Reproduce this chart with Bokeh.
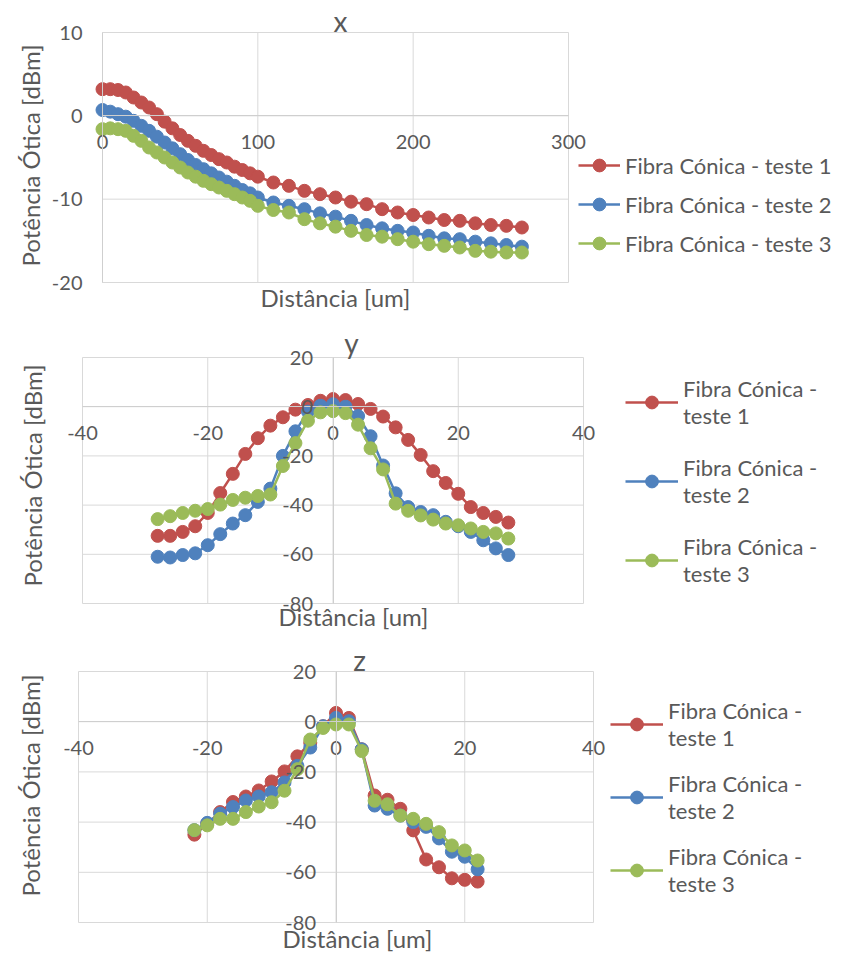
import math
from bokeh.plotting import figure
from bokeh.models import FixedTicker, Legend, LegendItem, Range1d, Label
from bokeh.layouts import column
from bokeh.embed import file_html
from bokeh.resources import INLINE

# ---------------- data ----------------
series_names = ["Fibra Cónica - teste 1", "Fibra Cónica - teste 2", "Fibra Cónica - teste 3"]
series_names_wrapped = ["Fibra Cónica -\nteste 1", "Fibra Cónica -\nteste 2", "Fibra Cónica -\nteste 3"]

# panel x
x_dist = [0, 5, 10, 15, 20, 25, 30, 35, 40, 45, 50, 55, 60, 65, 70, 75, 80, 85, 90, 95, 100,
          110, 120, 130, 140, 150, 160, 170, 180, 190, 200, 210, 220, 230, 240, 250, 260, 270]
x_teste1 = [3.2, 3.2, 3.1, 2.8, 2.2, 1.6, 1.0, 0.2, -0.7, -1.5, -2.3, -3.0, -3.6, -4.2, -4.7, -5.2, -5.6, -6.1, -6.5, -6.9, -7.3,
            -8.0, -8.4, -9.0, -9.4, -9.8, -10.3, -10.6, -11.2, -11.6, -11.9, -12.2, -12.5, -12.6, -12.9, -13.1, -13.2, -13.4]
x_teste2 = [0.7, 0.5, 0.2, -0.1, -0.6, -1.2, -1.8, -2.5, -3.2, -3.9, -4.6, -5.3, -5.9, -6.4, -6.9, -7.4, -7.9, -8.4, -8.9, -9.3, -9.8,
            -10.4, -10.8, -11.2, -11.7, -12.1, -12.6, -13.1, -13.5, -13.8, -14.0, -14.4, -14.7, -14.8, -15.1, -15.3, -15.5, -15.7]
x_teste3 = [-1.6, -1.5, -1.6, -1.8, -2.4, -3.0, -3.8, -4.4, -5.0, -5.6, -6.2, -6.8, -7.3, -7.8, -8.2, -8.6, -9.0, -9.4, -9.8, -10.2, -10.8,
            -11.3, -11.6, -12.4, -12.9, -13.3, -13.8, -14.3, -14.5, -14.8, -15.1, -15.4, -15.6, -15.8, -16.2, -16.3, -16.4, -16.4]

# panel y
y_dist = [-28, -26, -24, -22, -20, -18, -16, -14, -12, -10, -8, -6, -4, -2, 0,
          2, 4, 6, 8, 10, 12, 14, 16, 18, 20, 22, 24, 26, 28]
y_teste1 = [-52.5, -52.5, -50.9, -48.6, -43.2, -35.1, -27.3, -19.2, -12.8, -7.7, -4.3, -1.2, 0.7, 2.4, 3.1,
            2.7, 1.1, -0.9, -4.0, -8.4, -13.5, -19.6, -26.2, -31.0, -35.4, -40.8, -43.2, -44.8, -47.1]
y_teste2 = [-61.0, -61.3, -60.3, -59.6, -56.3, -51.8, -47.5, -44.1, -38.7, -33.3, -20.0, -10.0, -2.0, 0.4, 1.0,
            0.0, -3.8, -12.0, -23.9, -35.2, -40.8, -42.8, -44.1, -46.8, -48.6, -50.9, -54.3, -57.6, -60.3]
y_teste3 = [-45.7, -44.5, -43.2, -42.3, -41.6, -39.8, -37.9, -37.0, -36.3, -35.7, -24.1, -14.8, -5.7, -2.3, -1.8,
            -2.6, -7.3, -16.9, -25.5, -39.4, -42.3, -44.2, -45.9, -47.5, -48.2, -49.5, -50.9, -51.5, -53.6]

# panel z
z_dist = [-22, -20, -18, -16, -14, -12, -10, -8, -6, -4, -2, 0, 2, 4, 6, 8, 10, 12, 14, 16, 18, 20, 22]
z_teste1 = [-45.0, -40.6, -36.0, -32.0, -29.8, -27.4, -23.8, -19.8, -13.8, -8.4, -1.8, 3.5,
            1.5, -11.0, -29.4, -31.1, -34.7, -43.3, -54.9, -58.0, -62.4, -63.0, -63.7]
z_teste2 = [-43.2, -40.3, -36.6, -34.0, -31.4, -29.8, -28.1, -24.2, -17.6, -10.3, -1.8, 1.5,
            0.2, -11.0, -33.4, -34.7, -37.4, -40.0, -41.9, -46.5, -51.8, -53.8, -58.8]
z_teste3 = [-43.2, -41.3, -38.7, -38.7, -36.0, -33.8, -32.1, -27.5, -18.9, -7.1, -2.5, -1.1,
            -1.1, -11.7, -31.5, -32.9, -37.4, -38.7, -40.7, -44.0, -49.3, -51.3, -55.3]

x_ticks_x = [0, 100, 200, 300]
y_ticks_x = [-20, -10, 0, 10]
x_ticks_yz = [-40, -20, 0, 20, 40]
y_ticks_yz = [-80, -60, -40, -20, 0, 20]

# ---------------- style ----------------
FONT = "Lato"
GRAY = "#595959"
GRID = "#d9d9d9"
AXIS = "#cfcfcf"
COLORS = ["#C0504D", "#4F81BD", "#9BBB59"]
TICK_FS = "20px"
LABEL_FS = "24px"
LEGEND_FS = "22px"
TITLE_FS = "28px"
W = 845


def make_panel(title, xs, ys_list, names, xticks, yticks, height,
               grid_px, title_px, ytitle_px, xtitle_px, legend_loc, legend_spacing, glyph_w):
    # grid_px = (left, right, top, bottom) pixel box of the plotting area within this figure
    gl, gr, gt, gb = grid_px
    x0, x1 = xticks[0], xticks[-1]
    y0, y1 = yticks[0], yticks[-1]

    def px2x(px):
        return x0 + (px - gl) * (x1 - x0) / (gr - gl)

    def py2y(py):
        return y1 - (py - gt) * (y1 - y0) / (gb - gt)

    p = figure(width=W, height=height, output_backend="svg", toolbar_location=None,
               title=None, x_range=Range1d(px2x(0), px2x(W)), y_range=Range1d(py2y(height), py2y(0)),
               min_border=0, background_fill_color="white", border_fill_color="white")
    p.outline_line_color = None
    p.xgrid.visible = False
    p.ygrid.visible = False

    # grid lines limited to the plotting area
    p.segment(x0=xticks, y0=[y0] * len(xticks), x1=xticks, y1=[y1] * len(xticks),
              line_color=GRID, line_width=1)
    p.segment(x0=[x0] * len(yticks), y0=yticks, x1=[x1] * len(yticks), y1=yticks,
              line_color=GRID, line_width=1)

    # axes crossing at 0
    for ax, ticks in ((p.xaxis[0], xticks), (p.yaxis[0], yticks)):
        ax.fixed_location = 0
        ax.ticker = FixedTicker(ticks=ticks)
        ax.major_label_overrides = {t: str(t) for t in ticks}
        ax.axis_line_color = AXIS
        ax.major_tick_line_color = None
        ax.minor_tick_line_color = None
        ax.major_tick_out = 0
        ax.major_tick_in = 0
        ax.minor_tick_out = 0
        ax.major_label_text_font = FONT
        ax.major_label_text_font_size = TICK_FS
        ax.major_label_text_color = GRAY
    p.xaxis[0].bounds = (x0, x1)
    p.yaxis[0].bounds = (y0, y1)
    p.xaxis[0].major_label_standoff = 19
    p.yaxis[0].major_label_standoff = 20

    items = []
    for ys, c, name in zip(ys_list, COLORS, names):
        l = p.line(xs, ys, line_color=c, line_width=2.5)
        s = p.scatter(xs, ys, marker="circle", size=13, fill_color=c, line_color=c)
        items.append(LegendItem(label=name, renderers=[l, s]))

    # titles
    p.add_layout(Label(x=px2x(title_px[0]), y=py2y(title_px[1]), text=title,
                       text_align="center", text_baseline="middle",
                       text_font=FONT, text_font_size=TITLE_FS, text_color=GRAY))
    p.add_layout(Label(x=px2x(ytitle_px[0]), y=py2y(ytitle_px[1]), text="Potência Ótica [dBm]",
                       angle=math.pi / 2, text_align="center", text_baseline="middle",
                       text_font=FONT, text_font_size=LABEL_FS, text_color=GRAY))
    p.add_layout(Label(x=px2x(xtitle_px[0]), y=py2y(xtitle_px[1]), text="Distância [um]",
                       text_align="center", text_baseline="middle",
                       text_font=FONT, text_font_size=LABEL_FS, text_color=GRAY))

    leg = Legend(items=items, location=legend_loc, orientation="vertical",
                 background_fill_alpha=0, border_line_color=None,
                 label_text_font=FONT, label_text_font_size=LEGEND_FS, label_text_color=GRAY,
                 glyph_width=glyph_w, glyph_height=32, label_height=22, label_standoff=5,
                 spacing=legend_spacing, padding=0, margin=0)
    p.add_layout(leg)
    return p


p1 = make_panel("x", x_dist, [x_teste1, x_teste2, x_teste3], series_names,
                x_ticks_x, y_ticks_x, 315,
                (102, 568, 32, 282), (340, 20), (30, 155), (335, 297), (578, 56), 7, 42)
p2 = make_panel("y", y_dist, [y_teste1, y_teste2, y_teste3], series_names_wrapped,
                x_ticks_yz, y_ticks_yz, 315,
                (82, 583, 42, 288), (351, 27), (32, 160), (353, 301), (625, 43), 25, 53)
p3 = make_panel("z", z_dist, [z_teste1, z_teste2, z_teste3], series_names_wrapped,
                x_ticks_yz, y_ticks_yz, 323,
                (78, 593, 41, 292), (359, 29), (30, 155), (357, 308), (610, 56), 19, 53)

layout = column(p1, p2, p3, spacing=0)
open("out.html", "w").write(file_html(layout, INLINE))
